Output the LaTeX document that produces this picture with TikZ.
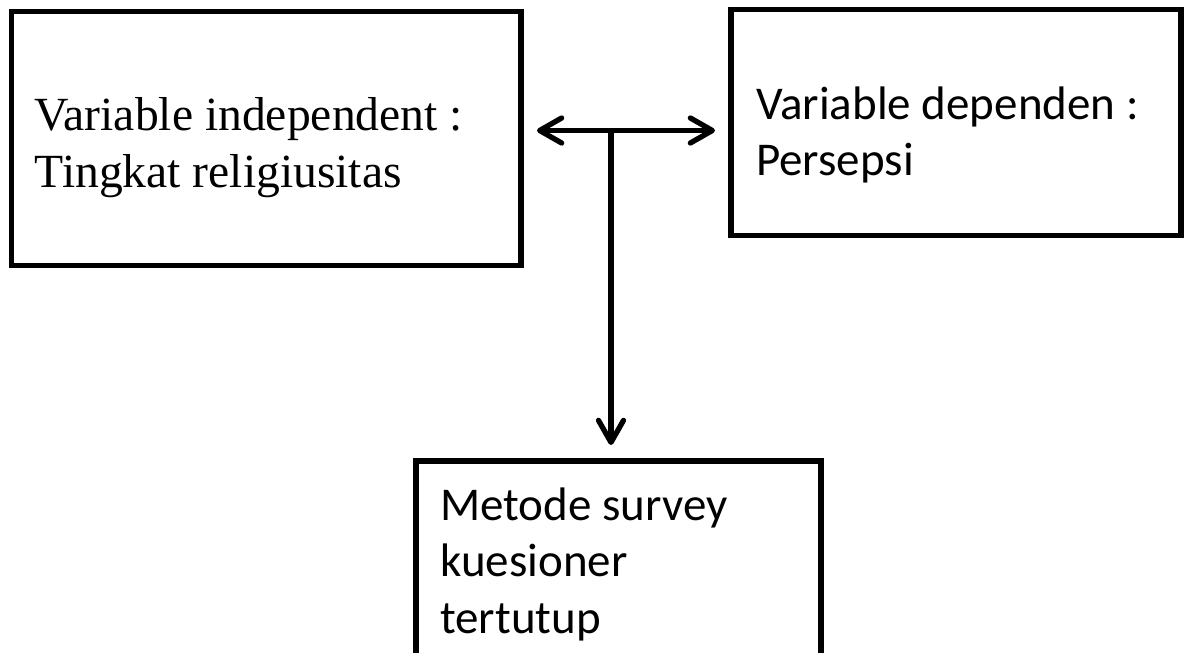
\documentclass[tikz,border=0pt]{standalone}
\usepackage{fontspec}
\setmainfont{Carlito}
\newfontfamily\timesf{Liberation Serif}
\usetikzlibrary{arrows.meta}
\begin{document}
\begin{tikzpicture}[x=1pt,y=-1pt,
  >={Straight Barb[length=22pt,width=25pt,line cap=round,line join=round]},
  box/.style={draw, line width=5.3pt, inner sep=0pt, outer sep=0pt},
  conn/.style={line width=5.3pt},
  txt/.style={anchor=base west, align=left, inner sep=0pt}]
\useasboundingbox (0,0) rectangle (1189,653);
\clip (0,0) rectangle (1189,653);
% boxes
\node[box, minimum width=509.5pt, minimum height=253.6pt] (ind) at (266.25,138.5) {};
\node[box, minimum width=450pt, minimum height=225.8pt] (dep) at (956,122.4) {};
\node[box, minimum width=405pt, minimum height=260pt, anchor=north] (svy) at (618.5,461) {};
% texts (anchor = baseline of last line)
\node[txt, font=\timesf\fontsize{47.6}{57.6}\selectfont] (indtxt) at (34.4,187.6) {Variable independent :\\Tingkat religiusitas};
\node[txt, font=\fontsize{47}{56}\selectfont] (deptxt) at (756,175) {Variable dependen :\\Persepsi};
\node[txt, font=\fontsize{47}{56.5}\selectfont] (svytxt) at (440,633) {Metode survey\\kuesioner\\tertutup};
% connectors
\coordinate (L) at ([xshift=16pt]ind.east |- 0,130.5);
\coordinate (R) at ([xshift=-16pt]dep.west |- 0,130.5);
\coordinate (J) at (611,130.5);
\coordinate (D) at ([yshift=16pt]J |- svy.north);
\draw[conn, <->] (L) -- (R);
\draw[conn, ->] (J) -- (D);
\end{tikzpicture}
\end{document}
